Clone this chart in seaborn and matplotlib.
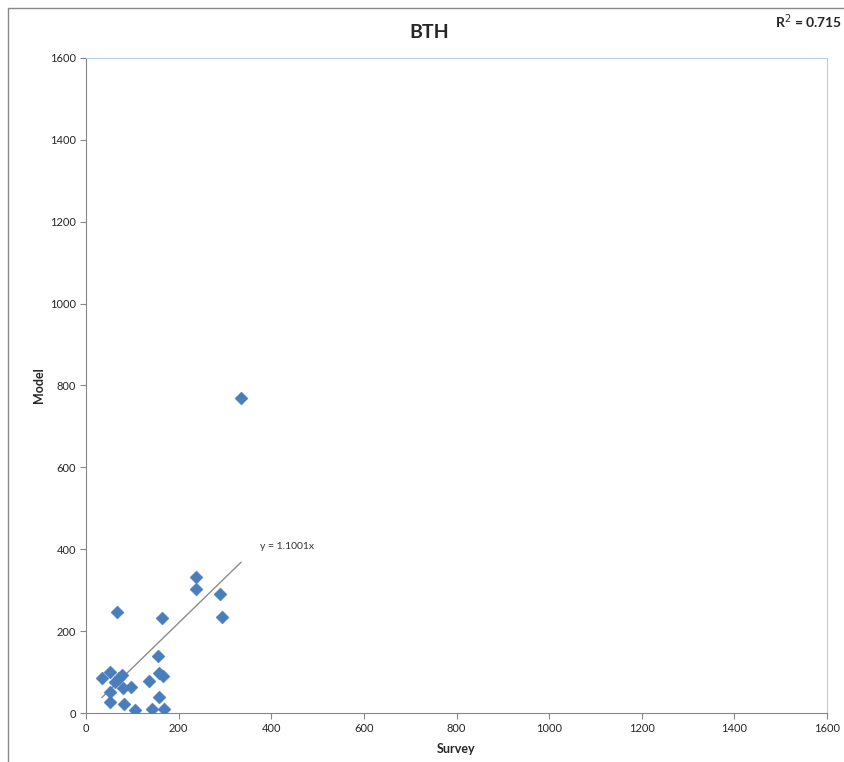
import numpy as np
import pandas as pd
import matplotlib
matplotlib.use("Agg")
import matplotlib.pyplot as plt
import seaborn as sns
from matplotlib.patches import Rectangle

# values
survey = [34, 52, 63, 72, 78, 52, 79, 97, 52, 81, 106, 137, 155, 157, 167,
          158, 142, 168, 237, 237, 289, 293, 165, 66, 335]
model = [85, 101, 76, 85, 93, 52, 60, 64, 28, 21, 7, 77, 139, 97, 90,
         38, 11, 11, 333, 303, 291, 234, 231, 246, 769]
slope = 1.1001
r_squared = 0.715
ticks = [0, 200, 400, 600, 800, 1000, 1200, 1400, 1600]

df = pd.DataFrame({"Survey": survey, "Model": model})
trend_x = np.array([min(survey), max(survey)])
trend = pd.DataFrame({"Survey": trend_x, "Model": slope * trend_x})

sns.set_theme(style="white")
plt.rcParams["font.family"] = ["Lato", "DejaVu Sans"]

fig = plt.figure(figsize=(8.44, 7.62), dpi=100)
ax = fig.add_axes([0.1019, 0.0643, 0.878, 0.8596])

sns.lineplot(data=trend, x="Survey", y="Model", ax=ax, color="#8c8c8c",
             linewidth=1.0, zorder=2)
sns.scatterplot(data=df, x="Survey", y="Model", ax=ax, marker="D", s=44,
                color="#4a7ebb", edgecolor="#4a7ebb", linewidth=0.3, zorder=3)

ax.set_xlim(0, 1600)
ax.set_ylim(0, 1600)
ax.set_xticks(ticks)
ax.set_yticks(ticks)
ax.tick_params(axis="both", labelsize=8, length=4, width=0.8,
               color="#868686", direction="out", pad=3, bottom=True, left=True)

for side in ["top", "right"]:
    ax.spines[side].set_color("#b9cde5")
    ax.spines[side].set_linewidth(0.8)
for side in ["bottom", "left"]:
    ax.spines[side].set_color("#868686")
    ax.spines[side].set_linewidth(0.8)

ax.set_xlabel("Survey", fontsize=9, fontweight="bold", labelpad=7)
ax.set_ylabel("Model", fontsize=9, fontweight="bold")
ax.yaxis.set_label_coords(-0.056, 0.5)

fig.text(0.509, 0.958, "BTH", fontsize=14, fontweight="bold",
         ha="center", va="center")
ax.text(375, 400, f"y = {slope:.4f}x", fontsize=7.5, color="#333333")
fig.text(0.918, 0.971, f"R$^2$ = {r_squared:.3f}", fontsize=10,
         fontweight="bold", ha="left", va="center")

# outer chart frame (top and left edges visible)
fig.patches.append(Rectangle((0.0095, -0.01), 1.2, 1.0, transform=fig.transFigure,
                             fill=False, edgecolor="#888888", linewidth=1.0))

fig.savefig("out.png", dpi=100)
